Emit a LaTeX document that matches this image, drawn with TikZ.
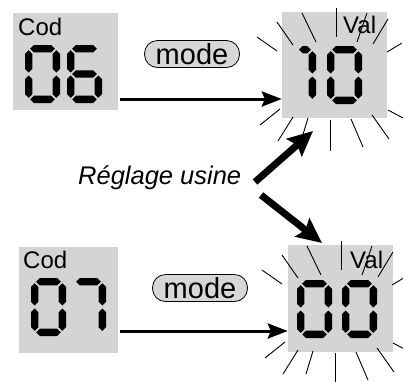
\documentclass[tikz,border=0pt]{standalone}
\usepackage{fontspec}
\setmainfont{Liberation Sans}
\usetikzlibrary{arrows.meta}

\definecolor{lcdgray}{RGB}{211,212,214}
\definecolor{pillgray}{RGB}{214,215,217}

% one bar of the display, pointed at both ends
\newcommand{\lcdh}[3]{\fill (#1,#3) -- (#1+3.7,#3-3.7) -- (#2-3.7,#3-3.7) -- (#2,#3) -- (#2-3.7,#3+3.7) -- (#1+3.7,#3+3.7) -- cycle;}
\newcommand{\lcdv}[3]{\fill (#1,#2) -- (#1+3.7,#2+3.7) -- (#1+3.7,#3-3.7) -- (#1,#3) -- (#1-3.7,#3-3.7) -- (#1-3.7,#2+3.7) -- cycle;}

% the seven segments, digit placed by its top left corner
\newcommand{\lcdsega}[2]{\lcdh{#1+5.2}{#1+29.8}{#2+3.7}}
\newcommand{\lcdsegb}[2]{\lcdv{#1+31.3}{#2+5.2}{#2+27.5}}
\newcommand{\lcdsegc}[2]{\lcdv{#1+31.3}{#2+30.5}{#2+52.8}}
\newcommand{\lcdsegd}[2]{\lcdh{#1+5.2}{#1+29.8}{#2+54.3}}
\newcommand{\lcdsege}[2]{\lcdv{#1+3.7}{#2+30.5}{#2+52.8}}
\newcommand{\lcdsegf}[2]{\lcdv{#1+3.7}{#2+5.2}{#2+27.5}}
\newcommand{\lcdsegg}[2]{\lcdh{#1+5.2}{#1+29.8}{#2+29}}
\newcommand{\lcdsegh}[2]{\lcdh{#1+18}{#1+29.8}{#2+3.7}}   % flag of the 1
\newcommand{\lcddigit}[3]{\foreach \s in {#3} {\csname lcdseg\s\endcsname{#1}{#2}}}

\tikzset{
  lcd/.style={fill=lcdgray, inner sep=0pt},
  label/.style={font=\fontsize{24}{24}\selectfont, inner sep=0pt},
  pill/.style={draw, line width=0.8pt, fill=pillgray, rounded corners=13pt,
    minimum width=95pt, minimum height=27pt, inner sep=0pt,
    font=\fontsize{29}{29}\selectfont},
  flow/.style={line width=3pt, -{Stealth[length=20pt,width=15pt,inset=3pt]}},
  bigflow/.style={line width=7pt, -{Stealth[length=25pt,width=23pt,inset=4pt]}},
  glint/.style={line width=0.9pt}
}

\begin{document}
\begin{tikzpicture}[x=1pt, y=-1pt]
  \useasboundingbox (0,0) rectangle (403,381);

  % displays
  \node[lcd, minimum width=105pt, minimum height=97pt]  (cod06) at (65.5,61.5)  {};
  \node[lcd, minimum width=99pt,  minimum height=106pt] (cod07) at (68.5,300)   {};
  \node[lcd, minimum width=105pt, minimum height=106pt] (val10) at (334.5,65)   {};
  \node[lcd, minimum width=105pt, minimum height=107pt] (val00) at (340.5,298.5) {};

  % blinking around the values
  \foreach \cx/\cy in {335/65, 340/298} {
    \foreach \xa/\ya/\xb/\yb in {-78/-28/-58/-14, -58/-43/-42/-20, -33/-52/-19/-23,
        1/-57/1/-28, 22/-23/32/-52, 38/-21/53/-46, 52/-13/67/-22, 53/45/68/53,
        37/50/54/74, 16/54/28/82, -5/55/-5/86, -27/53/-34/76, -42/52/-57/76,
        -55/44/-75/60} {
      \draw[glint] (\cx+\xa,\cy+\ya) -- (\cx+\xb,\cy+\yb);
    }
  }

  % digits
  \lcddigit{25}{45}{a,b,c,d,e,f}
  \lcddigit{67}{45}{a,c,d,e,f,g}
  \lcddigit{31}{278}{a,b,c,d,e,f}
  \lcddigit{71}{278}{a,b,c}
  \lcddigit{281}{46}{b,c,h}
  \lcddigit{327}{46}{a,b,c,d,e,f}
  \lcddigit{297}{280}{a,b,c,d,e,f}
  \lcddigit{342}{280}{a,b,c,d,e,f}

  \node[label, anchor=base west] (cod1) at (18,35)  {Cod};
  \node[label, anchor=base west] (cod2) at (23,268) {Cod};
  \node[label, anchor=base west] (val1) at (343,33) {Val};
  \node[label, anchor=base west] (val2) at (350,268) {Val};

  \node[pill] (mode1) at (192,54)  {mode};
  \node[pill] (mode2) at (200,288) {mode};

  \node[label, anchor=base west, font=\fontsize{25.5}{25.5}\selectfont\itshape] (usine) at (78,184) {Réglage usine};

  \coordinate (go1) at (120,99);
  \coordinate (go2) at (120,331);
  \draw[flow] (go1) -- (go1 -| val10.west);
  \draw[flow] (go2) -- (go2 -| val00.west);

  \coordinate (up0) at (255,182);
  \coordinate (up1) at (313,131);
  \coordinate (dn0) at (261,195);
  \coordinate (dn1) at (322,243);
  \draw[bigflow] (up0) -- (up1);
  \draw[bigflow] (dn0) -- (dn1);
\end{tikzpicture}
\end{document}
